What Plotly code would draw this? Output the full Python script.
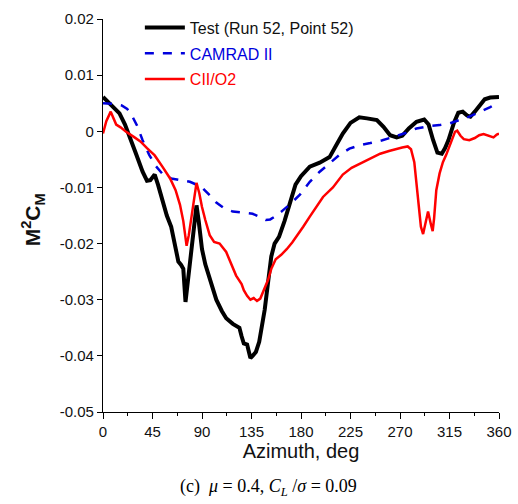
import plotly.graph_objects as go

# Test (Run 52, Point 52)
test_az = [0, 3, 8, 15, 20, 25, 30, 36, 40, 43, 47, 50, 53, 58, 62, 66, 68.5, 71, 73, 75,
           77, 79, 82, 85, 87, 90, 93, 98, 103, 108, 112, 118, 124, 126, 128, 131, 134, 136,
           139, 142, 145, 147, 150, 153, 156, 160, 165, 170, 175, 180, 188, 197, 206, 212,
           218, 225, 233, 240, 249, 255, 261, 267, 272, 278, 285, 292, 296, 300, 304, 308,
           311, 314, 319, 323, 327, 331, 334, 338, 343, 347, 352, 360]
test_val = [0.0061, 0.0055, 0.0045, 0.0032, 0.0012, -0.0016, -0.0040, -0.0072, -0.0088,
            -0.0087, -0.0077, -0.0095, -0.0117, -0.0150, -0.0170, -0.0210, -0.0232, -0.0238,
            -0.0245, -0.0304, -0.0270, -0.0235, -0.0190, -0.0132, -0.0160, -0.0210, -0.0237,
            -0.0270, -0.0300, -0.0320, -0.0333, -0.0343, -0.0350, -0.0365, -0.0378, -0.0380,
            -0.0404, -0.0400, -0.0393, -0.0375, -0.0345, -0.0318, -0.0270, -0.0223, -0.0200,
            -0.0188, -0.0160, -0.0125, -0.0095, -0.0080, -0.0063, -0.0056, -0.0046, -0.0025,
            -0.0004, 0.0015, 0.0025, 0.0023, 0.0020, 0.0008, -0.0007, -0.0011, -0.0008, 0.0005,
            0.0017, 0.0021, 0.0012, -0.0015, -0.0038, -0.0040, -0.0030, -0.0016, 0.0015,
            0.0033, 0.0035, 0.0028, 0.0026, 0.0035, 0.0048, 0.0057, 0.0060, 0.0061]

# CAMRAD II
cam_az = [0, 10, 17, 22, 26, 31, 36, 42, 48, 55, 62, 70, 79, 85, 91, 97, 103, 110, 118, 128,
          136, 142, 148, 152, 158, 164, 170, 179, 188, 197, 206, 215, 224, 233, 243, 254, 264,
          275, 285, 296, 306, 315, 324, 333, 343, 352, 360]
cam_val = [0.0050, 0.0049, 0.0046, 0.0040, 0.0029, 0.0010, -0.0016, -0.0042, -0.0062, -0.0078,
           -0.0084, -0.0087, -0.0090, -0.0095, -0.0102, -0.0114, -0.0127, -0.0137, -0.0143,
           -0.0145, -0.0147, -0.0152, -0.0158, -0.0157, -0.0150, -0.0140, -0.0130, -0.0113,
           -0.0090, -0.0072, -0.0057, -0.0042, -0.0031, -0.0025, -0.0021, -0.0016, -0.0010,
           -0.0003, 0.0005, 0.0009, 0.0011, 0.0014, 0.0020, 0.0026, 0.0035, 0.0043, 0.0052]

# CII/O2
o2_az = [0, 3, 7, 9, 12, 16, 21, 28, 34, 40, 47, 54, 61, 66, 70, 73, 76, 78, 80.5, 83, 85,
         87.5, 90, 93, 97, 101, 106, 112, 116, 121, 126, 128, 131, 134, 137, 140, 143, 146,
         150, 153, 157, 162, 167, 172, 177, 182, 188, 194, 200, 209, 218, 226, 234, 242, 252,
         260, 267, 272, 277, 280, 283, 285, 287, 289, 291, 293, 295.5, 298, 299.7, 301, 303,
         306, 309, 312, 316, 320, 322, 325, 328, 333, 338, 342, 346, 350, 355, 358, 360]
o2_val = [-0.0004, 0.0018, 0.0035, 0.0025, 0.0012, 0.0007, -0.0001, -0.0010, -0.0018, -0.0030,
          -0.0043, -0.0063, -0.0084, -0.0105, -0.0131, -0.0160, -0.0204, -0.0185, -0.0152,
          -0.0110, -0.0092, -0.0110, -0.0135, -0.0158, -0.0185, -0.0197, -0.0200, -0.0215,
          -0.0235, -0.0257, -0.0272, -0.0283, -0.0293, -0.0300, -0.0297, -0.0302, -0.0298,
          -0.0285, -0.0265, -0.0245, -0.0228, -0.0220, -0.0210, -0.0198, -0.0185, -0.0170,
          -0.0152, -0.0135, -0.0117, -0.0100, -0.0077, -0.0065, -0.0057, -0.0049, -0.0040,
          -0.0035, -0.0031, -0.0029, -0.0027, -0.0032, -0.0055, -0.0090, -0.0135, -0.0170,
          -0.0183, -0.0165, -0.0143, -0.0165, -0.0178, -0.0155, -0.0105, -0.0075, -0.0055,
          -0.0042, -0.0020, -0.0001, 0.0001, -0.0008, -0.0014, -0.0016, -0.0012, -0.0007,
          -0.0005, -0.0008, -0.0011, -0.0006, -0.0004]

x_ticks = [0, 45, 90, 135, 180, 225, 270, 315, 360]
y_ticks = [0.02, 0.01, 0, -0.01, -0.02, -0.03, -0.04, -0.05]
y_labels = ["0.02", "0.01", "0", "-0.01", "-0.02", "-0.03", "-0.04", "-0.05"]

FONT = "Liberation Sans, Arial, sans-serif"
BLUE = "#0000dd"

fig = go.Figure()
fig.add_trace(go.Scatter(x=test_az, y=test_val, mode="lines", legendgroup="a",
                         name="<span style='color:#111'>Test (Run 52, Point 52)</span>",
                         line=dict(color="black", width=4)))
fig.add_trace(go.Scatter(x=cam_az, y=cam_val, mode="lines", legendgroup="b",
                         name=f"<span style='color:{BLUE}'>CAMRAD II</span>",
                         line=dict(color=BLUE, width=2.5, dash="dash")))
fig.add_trace(go.Scatter(x=o2_az, y=o2_val, mode="lines", legendgroup="c",
                         name="<span style='color:red'>CII/O2</span>",
                         line=dict(color="red", width=2.5)))

fig.update_layout(
    width=518, height=504,
    margin=dict(l=103, r=19, t=19, b=92, autoexpand=False),
    plot_bgcolor="white", paper_bgcolor="white",
    font=dict(family=FONT, size=15, color="#111"),
    legend=dict(xref="container", yref="container", x=0.27, y=0.979,
                xanchor="left", yanchor="top",
                bgcolor="rgba(0,0,0,0)", font=dict(size=16), tracegroupgap=2,
                itemwidth=40),
)

fig.update_xaxes(range=[0, 360], tickvals=x_ticks, showgrid=False, zeroline=False,
                 showline=True, linecolor="black", linewidth=1.2, automargin=False,
                 ticks="outside", ticklen=6, tickcolor="black",
                 minor=dict(ticks="outside", ticklen=3, dtick=22.5, tick0=0, tickcolor="black"),
                 title=dict(text="Azimuth, deg", font=dict(size=20), standoff=4),
                 tickfont=dict(size=15))
fig.update_yaxes(range=[-0.05, 0.02], tickvals=y_ticks, ticktext=y_labels, showgrid=False,
                 zeroline=False, showline=True, linecolor="black", linewidth=1.2,
                 automargin=False,
                 ticks="outside", ticklen=5, tickcolor="black",
                 tickfont=dict(size=15))

# y title as an annotation so it sits where the reference has it
fig.add_annotation(
    text="<b>M<sup>2</sup>C<sub>M</sub></b>", textangle=-90,
    xref="paper", yref="paper", x=-0.177, y=0.49, xanchor="center", yanchor="middle",
    showarrow=False, font=dict(size=21, color="#111"))

fig.add_annotation(
    text="(c)  <i>μ</i> = 0.4, <i>C<sub>L</sub></i> /<i>σ</i> = 0.09",
    xref="paper", yref="paper", x=0.417, y=-0.193, xanchor="center", yanchor="middle",
    showarrow=False, font=dict(family="Liberation Serif, Times New Roman, serif", size=18, color="black"))

# the page's default body margin would shift the whole figure by 8 px
fig.write_html("out.html", config={"displayModeBar": False},
               post_script="document.body.style.margin='0px';")
